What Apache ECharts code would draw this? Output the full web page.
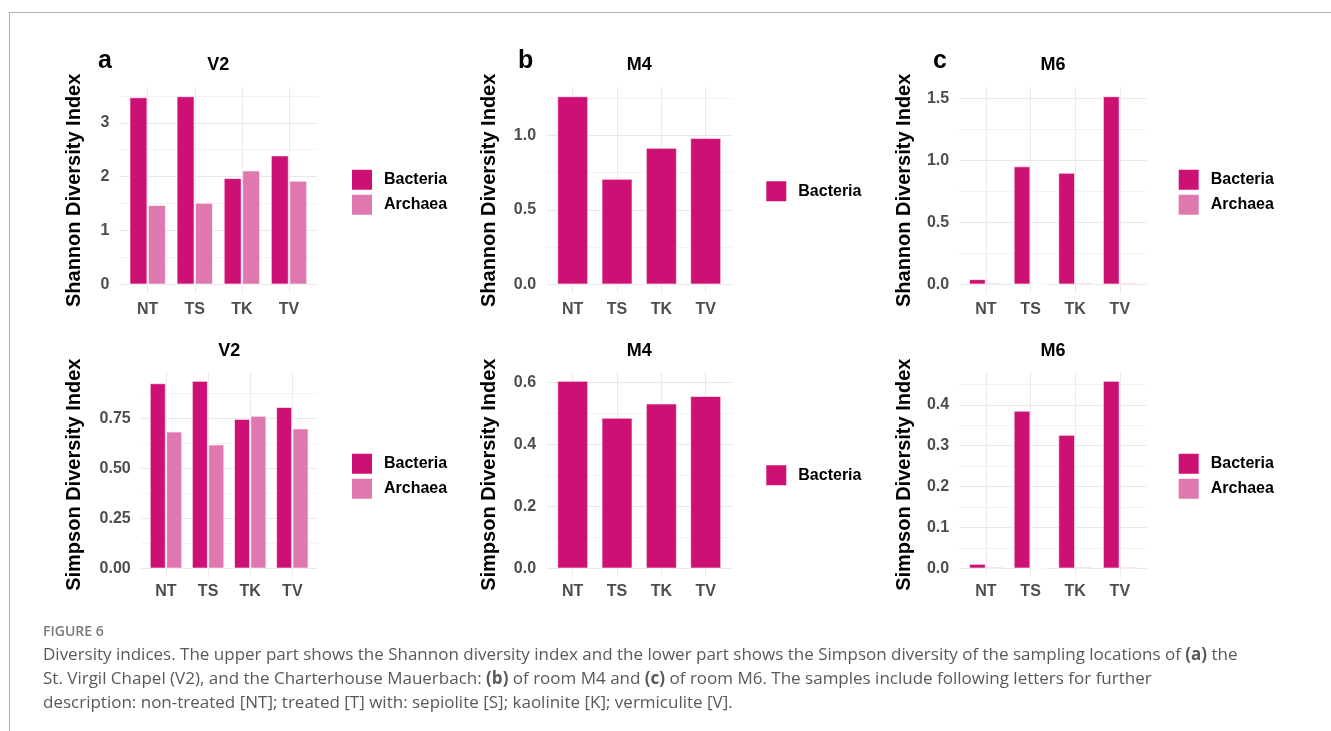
<!DOCTYPE html>
<html><head><meta charset="utf-8">
<script src="https://cdn.jsdelivr.net/npm/echarts@6/dist/echarts.min.js"></script>
<style>html,body{margin:0;padding:0;background:#fff}#c{width:1331px;height:731px}</style>
</head><body><div id="c"></div>
<script>
// ---- data ----
const categories = ['NT', 'TS', 'TK', 'TV'];
const seriesNames = ['Bacteria', 'Archaea'];

const v2ShannonBacteria = [3.47, 3.49, 1.97, 2.39];
const v2ShannonArchaea  = [1.47, 1.51, 2.11, 1.92];
const v2SimpsonBacteria = [0.926, 0.938, 0.747, 0.807];
const v2SimpsonArchaea  = [0.684, 0.619, 0.763, 0.700];

const m4ShannonBacteria = [1.262, 0.707, 0.915, 0.982];
const m4SimpsonBacteria = [0.605, 0.486, 0.532, 0.556];

const m6ShannonBacteria = [0.040, 0.949, 0.897, 1.514];
const m6ShannonArchaea  = [0.010, 0, 0.010, 0.010];
const m6SimpsonBacteria = [0.0105, 0.385, 0.326, 0.458];
const m6SimpsonArchaea  = [0.003, 0, 0.003, 0.003];

// tick labels (major) and minor grid values
const v2ShannonTicks = [0, 1, 2, 3];           const v2ShannonMinor = [0.5, 1.5, 2.5, 3.5];
const v2SimpsonTicks = [0, 0.25, 0.5, 0.75];   const v2SimpsonMinor = [0.125, 0.375, 0.625, 0.875];
const m4ShannonTicks = [0, 0.5, 1.0];          const m4ShannonMinor = [0.25, 0.75, 1.25];
const m4SimpsonTicks = [0, 0.2, 0.4, 0.6];     const m4SimpsonMinor = [0.1, 0.3, 0.5];
const m6ShannonTicks = [0, 0.5, 1.0, 1.5];     const m6ShannonMinor = [0.25, 0.75, 1.25];
const m6SimpsonTicks = [0, 0.1, 0.2, 0.3, 0.4]; const m6SimpsonMinor = [0.05, 0.15, 0.25, 0.35, 0.45];

// ---- styling / layout ----
const COLORS = { Bacteria: '#CD1174', Archaea: '#DF78AE' };
const FONT = '"Liberation Sans", Arial, Helvetica, sans-serif';
const TOP_ROW = { top: 87, bottom: 293.7, titleY: 65.5, xMargin: 8 };
const BOT_ROW = { top: 371.7, bottom: 577.7, titleY: 351, xMargin: 6 };

const panels = [
  { row: TOP_ROW, left: 119.4, right: 317.3, series: [v2ShannonBacteria, v2ShannonArchaea], ticks: v2ShannonTicks, minor: v2ShannonMinor, dec: 0,
    title: 'V2', axisTitle: 'Shannon Diversity Index', axisTitleX: 84, legend: [350, 167.7], gap: '23.6%' },
  { row: BOT_ROW, left: 140.7, right: 317.6, series: [v2SimpsonBacteria, v2SimpsonArchaea], ticks: v2SimpsonTicks, minor: v2SimpsonMinor, dec: 2,
    title: 'V2', axisTitle: 'Simpson Diversity Index', axisTitleX: 84, legend: [350, 451.7], gap: '24%' },
  { row: TOP_ROW, left: 546.1, right: 732.3, series: [m4ShannonBacteria], ticks: m4ShannonTicks, minor: m4ShannonMinor, dec: 1,
    title: 'M4', axisTitle: 'Shannon Diversity Index', axisTitleX: 499, legend: [764.3, 179.3], gap: '31%' },
  { row: BOT_ROW, left: 546.1, right: 732.3, series: [m4SimpsonBacteria], ticks: m4SimpsonTicks, minor: m4SimpsonMinor, dec: 1,
    title: 'M4', axisTitle: 'Simpson Diversity Index', axisTitleX: 499, legend: [764.3, 463.3], gap: '31%' },
  { row: TOP_ROW, left: 959.2, right: 1146.6, series: [m6ShannonBacteria, m6ShannonArchaea], ticks: m6ShannonTicks, minor: m6ShannonMinor, dec: 1,
    title: 'M6', axisTitle: 'Shannon Diversity Index', axisTitleX: 914, legend: [1176.7, 167.7], gap: '25%' },
  { row: BOT_ROW, left: 959.2, right: 1146.6, series: [m6SimpsonBacteria, m6SimpsonArchaea], ticks: m6SimpsonTicks, minor: m6SimpsonMinor, dec: 1,
    title: 'M6', axisTitle: 'Simpson Diversity Index', axisTitleX: 914, legend: [1176.7, 451.7], gap: '25%' }
];

const grids = [], xAxes = [], yAxes = [], series = [], legends = [], graphics = [];
const catIdx = categories.map((c, i) => i);

panels.forEach((p, k) => {
  const M = Math.max(...p.series.flat());
  grids.push({ left: p.left, top: p.row.top, width: p.right - p.left, height: p.row.bottom - p.row.top,
               containLabel: false, outerBoundsMode: 'none' });
  xAxes.push({
    type: 'value', gridIndex: k, min: -0.6, max: categories.length - 0.4,
    axisLine: { show: false, onZero: false }, axisTick: { show: false, customValues: catIdx },
    axisLabel: { customValues: catIdx, formatter: v => categories[Math.round(v)] || '', margin: p.row.xMargin,
                 fontFamily: FONT, fontSize: 16, fontWeight: 'bold', color: '#4D4D4D' },
    splitLine: { show: true, lineStyle: { color: '#EBEBEB', width: 1 } },
    minorSplitLine: { show: false }
  });
  const all = p.ticks.concat(p.minor).sort((a, b) => a - b);
  const lineColors = all.map(v => p.ticks.some(t => Math.abs(t - v) < 1e-9) ? '#E8E8E8' : '#F3F3F3');
  yAxes.push({
    type: 'value', gridIndex: k, min: -0.05 * M, max: 1.05 * M,
    axisLine: { show: false }, axisTick: { show: false, customValues: all },
    axisLabel: { customValues: p.ticks, formatter: v => Number(v).toFixed(p.dec), margin: 10,
                 fontFamily: FONT, fontSize: 16, fontWeight: 'bold', color: '#4D4D4D' },
    splitLine: { show: true, lineStyle: { color: lineColors, width: 1 } },
    minorSplitLine: { show: false }
  });
  const names = [];
  p.series.forEach((vals, j) => {
    const name = seriesNames[j];
    names.push(name);
    series.push({
      type: 'bar', name, xAxisIndex: k, yAxisIndex: k,
      data: vals.map((v, i) => [i, v]),
      barCategoryGap: p.gap, barGap: '5%',
      itemStyle: { color: COLORS[name], borderColor: '#FFFFFF', borderWidth: 0.6 },
      emphasis: { disabled: true }, silent: true
    });
  });
  legends.push({
    show: true, orient: 'vertical', left: p.legend[0], top: p.legend[1], padding: 0,
    itemWidth: 22, itemHeight: 22, itemGap: 1, icon: 'rect', data: names, selectedMode: false,
    textStyle: { fontFamily: FONT, fontSize: 16, fontWeight: 'bold', color: '#000', padding: [0, 0, 0, 6] }
  });
  // panel title
  graphics.push({ type: 'text', x: (p.left + p.right) / 2, y: p.row.titleY, silent: true,
    style: { text: p.title, font: 'bold 18px ' + FONT, fill: '#000', align: 'center', verticalAlign: 'middle' } });
  // y axis title
  graphics.push({ type: 'text', x: p.axisTitleX, y: (p.row.top + p.row.bottom) / 2, rotation: Math.PI / 2, silent: true,
    style: { text: p.axisTitle, font: 'bold 20px ' + FONT, fill: '#000', align: 'center', verticalAlign: 'bottom' } });
});

// panel letters
[['a', 98], ['b', 518], ['c', 933]].forEach(([t, x]) => {
  graphics.push({ type: 'text', x, y: 61, silent: true,
    style: { text: t, font: 'bold 25px ' + FONT, fill: '#000', align: 'left', verticalAlign: 'middle' } });
});

// frame lines
graphics.push({ type: 'line', silent: true, shape: { x1: 9, y1: 12.5, x2: 1331, y2: 12.5 }, style: { stroke: '#B0B0B0', lineWidth: 1 } });
graphics.push({ type: 'line', silent: true, shape: { x1: 9.5, y1: 12, x2: 9.5, y2: 731 }, style: { stroke: '#B0B0B0', lineWidth: 1 } });

// caption
const CAP_FONT = '"Open Sans", "Noto Sans", sans-serif';
const captionLines = [
  'Diversity indices. The upper part shows the Shannon diversity index and the lower part shows the Simpson diversity of the sampling locations of {b|(a)} the',
  'St. Virgil Chapel (V2), and the Charterhouse Mauerbach: {b|(b)} of room M4 and {b|(c)} of room M6. The samples include following letters for further',
  'description: non-treated [NT]; treated [T] with: sepiolite [S]; kaolinite [K]; vermiculite [V].'
];
graphics.push({ type: 'text', x: 43, y: 632, silent: true,
  style: { text: 'FIGURE 6', font: '600 14px ' + CAP_FONT, fill: '#7A7A7A', align: 'left', verticalAlign: 'middle' } });
captionLines.forEach((line, i) => {
  graphics.push({ type: 'text', x: 43, y: 655 + i * 24, silent: true,
    style: { text: line, fontFamily: CAP_FONT, fontSize: 17, fill: '#595959', align: 'left', verticalAlign: 'middle',
             rich: { b: { fontFamily: CAP_FONT, fontSize: 17, fontWeight: 'bold', fill: '#595959' } } } });
});

const chart = echarts.init(document.getElementById('c'), null, { renderer: 'canvas' });
chart.setOption({
  animation: false,
  backgroundColor: '#FFFFFF',
  grid: grids, xAxis: xAxes, yAxis: yAxes, series, legend: legends,
  graphic: { elements: graphics },
  tooltip: { show: false }
});
</script></body></html>
